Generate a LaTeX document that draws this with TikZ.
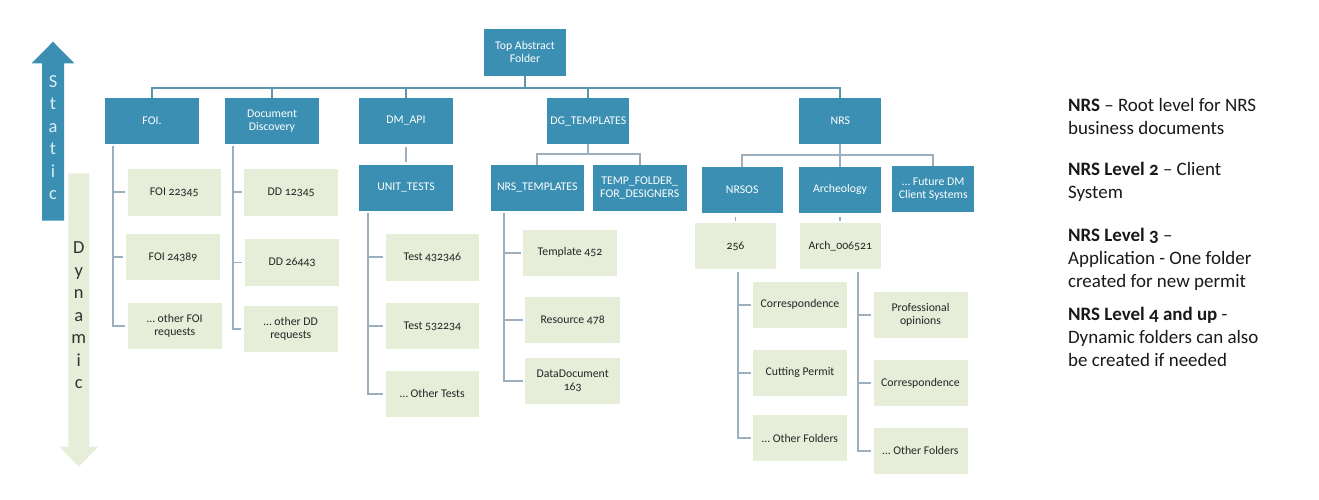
\documentclass[tikz,border=0pt]{standalone}
\usepackage{fontspec}
\setmainfont{Carlito}[Numbers=OldStyle]
\definecolor{foldteal}{RGB}{58,143,178}
\definecolor{dynlight}{RGB}{230,237,216}
\definecolor{busteal}{RGB}{92,150,172}
\definecolor{subgray}{RGB}{155,175,190}
\definecolor{staticlet}{RGB}{220,238,245}
\usetikzlibrary{positioning}
\newcommand{\boxfont}{\fontsize{6.7}{7.4}\selectfont}

\begin{document}
\begin{tikzpicture}[x=0.02cm, y=-0.02cm,
  fbox/.style={fill=foldteal, text=white, minimum width=1.88cm, minimum height=0.91cm, align=center, inner sep=1pt, font=\boxfont},
  dbox/.style={fill=dynlight, text=black!85, minimum width=1.88cm, minimum height=0.91cm, align=center, inner sep=1pt, font=\boxfont},
  bus/.style={draw=busteal, line width=1.3pt},
  sub/.style={draw=subgray, line width=1.1pt},
  legend/.style={anchor=north west, inner sep=0pt, align=left, text=black!90, font=\fontsize{10.8}{13}\selectfont}]
  \useasboundingbox (0,0) rectangle (1319,500);

  % Static / Dynamic arrows
  \fill[foldteal] (42,220.7) -- (42,63.3) -- (31.7,63.3) -- (53,41.7) -- (74.3,63.3) -- (64,63.3) -- (64,220.7) -- cycle;
  \fill[dynlight] (68.3,173.3) -- (68.3,446.7) -- (59.3,446.7) -- (78.8,466.7) -- (98.3,446.7) -- (89.3,446.7) -- (89.3,173.3) -- cycle;
  \node[anchor=north, inner sep=0pt, align=center, text=staticlet, font=\fontsize{10.5}{12.8}\selectfont] (static) at (53,75) {S\\t\\a\\t\\i\\c};
  \node[anchor=north, inner sep=0pt, align=center, text=black!80, font=\fontsize{10.5}{12.8}\selectfont] (dynamic) at (78.8,241.7) {D\\y\\n\\a\\m\\i\\c};

  % Static folders
  \node[fbox, minimum width=1.64cm, minimum height=0.93cm] (top) at (525,52.3) {Top Abstract\\Folder};
  \node[fbox] (foi) at (152,121) {FOI.};
  \node[fbox] (dd) at (272,121) {Document\\Discovery};
  \node[fbox] (dmapi) at (406,121) {DM\_API};
  \node[fbox, minimum width=1.64cm] (dg) at (588.3,121) {DG\_TEMPLATES};
  \node[fbox, minimum width=1.64cm] (nrs) at (840.3,121) {NRS};
  \node[fbox] (unit) at (406,187.8) {UNIT\_TESTS};
  \node[fbox, minimum width=1.87cm] (nrstpl) at (537.3,187.8) {NRS\_TEMPLATES};
  \node[fbox] (tempf) at (639.7,187.8) {TEMP\_FOLDER\_\\FOR\_DESIGNERS};
  \node[fbox, minimum width=1.62cm] (nrsos) at (742.2,189.8) {NRSOS};
  \node[fbox, minimum width=1.63cm] (arch) at (840,189.8) {Archeology};
  \node[fbox, minimum width=1.63cm] (future) at (933.2,188.8) {\ldots\ Future DM\\Client Systems};

  % Dynamic folders
  \node[dbox, minimum width=1.86cm, minimum height=0.93cm] (foi1) at (174.2,192.3) {FOI 22345};
  \node[dbox, minimum width=1.88cm] (foi2) at (173,257) {FOI 24389};
  \node[dbox] (foi3) at (174.8,326) {\ldots\ other FOI\\requests};
  \node[dbox, minimum height=0.93cm] (dd1) at (291.2,192.3) {DD 12345};
  \node[dbox, minimum height=0.93cm] (dd2) at (292,262.5) {DD 26443};
  \node[dbox] (dd3) at (290.8,328.8) {\ldots\ other DD\\requests};
  \node[dbox, minimum width=1.87cm, minimum height=0.93cm] (t1) at (432.3,257.3) {Test 432346};
  \node[dbox, minimum width=1.87cm] (t2) at (432.3,326) {Test 532234};
  \node[dbox, minimum width=1.87cm] (t3) at (432.3,393.8) {\ldots\ Other Tests};
  \node[dbox, minimum width=1.87cm] (tp1) at (570,252.8) {Template 452};
  \node[dbox, minimum width=1.89cm] (tp2) at (572.7,320) {Resource 478};
  \node[dbox, minimum width=1.89cm] (tp3) at (572.7,380.8) {DataDocument\\163};
  \node[dbox, minimum width=1.62cm, minimum height=0.92cm] (n256) at (735.5,246.3) {256};
  \node[dbox, minimum width=1.61cm, minimum height=0.92cm] (narch) at (840.3,246.3) {Arch\_006521};
  \node[dbox, minimum width=1.87cm] (c1) at (800,304.8) {Correspondence};
  \node[dbox, minimum width=1.87cm] (c2) at (800,372.8) {Cutting Permit};
  \node[dbox, minimum width=1.87cm] (c3) at (800,438.2) {\ldots\ Other Folders};
  \node[dbox] (a1) at (920.5,314.8) {Professional\\opinions};
  \node[dbox] (a2) at (920.5,383.2) {Correspondence};
  \node[dbox] (a3) at (920.5,450.8) {\ldots\ Other Folders};

  % Top level bus
  \coordinate (bus) at (525,88.3);
  \draw[bus] (top.south) -- (bus);
  \draw[bus] (foi.north) |- (bus) -| (nrs.north);
  \draw[bus] (dd.north) -- (dd.north |- bus);
  \draw[bus] (dmapi.north) -- (dmapi.north |- bus);
  \draw[bus] (dg.north) -- (dg.north |- bus);

  % Second level
  \coordinate (dgbus) at (588.3,154.3);
  \draw[sub] (dg.south) -- (dgbus);
  \draw[sub] (nrstpl.north) |- (dgbus) -| (tempf.north);
  \coordinate (nrsbus) at (840.3,155.3);
  \draw[sub] (nrs.south) -- (nrsbus);
  \draw[sub] (nrsos.north) |- (nrsbus) -| (future.north);
  \draw[sub] (arch.north) -- (arch.north |- nrsbus);
  \draw[sub, shorten <=1.5pt, shorten >=1.3pt] (dmapi.south) -- (unit.north);
  \draw[sub, shorten <=2.2pt, shorten >=1.2pt] (n256.north |- nrsos.south) -- (n256.north);
  \draw[sub, shorten <=2.2pt, shorten >=1.2pt] (narch.north |- arch.south) -- (narch.north);

  % Dynamic spines
  \coordinate (foisp) at (113.3,146);
  \draw[sub] (foisp) |- ([xshift=-1.5pt]foi3.west);
  \draw[sub] (foi1.west -| foisp) -- ([xshift=-1.3pt]foi1.west);
  \draw[sub] (foi2.west -| foisp) -- ([xshift=-1.3pt]foi2.west);
  \coordinate (ddsp) at (233.3,146);
  \draw[sub] (ddsp) |- ([xshift=-1.3pt]dd3.west);
  \draw[sub] (dd1.west -| ddsp) -- ([xshift=-1.3pt]dd1.west);
  \draw[sub] (dd2.west -| ddsp) -- ([xshift=-1.3pt]dd2.west);
  \coordinate (unitsp) at (368.3,213.3);
  \draw[sub] (unitsp) |- ([xshift=-1.3pt]t3.west);
  \draw[sub] (t1.west -| unitsp) -- ([xshift=-1.3pt]t1.west);
  \draw[sub] (t2.west -| unitsp) -- ([xshift=-1.3pt]t2.west);
  \coordinate (tplsp) at (504,213.3);
  \draw[sub] (tplsp) |- ([xshift=-1.3pt]tp3.west);
  \draw[sub] (tp1.west -| tplsp) -- ([xshift=-1.3pt]tp1.west);
  \draw[sub] (tp2.west -| tplsp) -- ([xshift=-1.3pt]tp2.west);
  \coordinate (n256sp) at (737.7,271.7);
  \draw[sub] (n256sp) |- ([xshift=-1.3pt]c3.west);
  \draw[sub] (c1.west -| n256sp) -- ([xshift=-1.3pt]c1.west);
  \draw[sub] (c2.west -| n256sp) -- ([xshift=-1.3pt]c2.west);
  \coordinate (archsp) at (858.3,271.7);
  \draw[sub] (archsp) |- ([xshift=-1.3pt]a3.west);
  \draw[sub] (a1.west -| archsp) -- ([xshift=-1.3pt]a1.west);
  \draw[sub] (a2.west -| archsp) -- ([xshift=-1.3pt]a2.west);

  % Legend
  \node[legend] (lg1) at (1067.7,98) {\textbf{NRS} – Root level for NRS\\business documents};
  \node[legend] (lg2) at (1067.7,161.7) {\textbf{NRS Level 2} – Client\\System};
  \node[legend] (lg3) at (1067.7,228) {\textbf{NRS Level 3} –\\Application - One folder\\created for new permit};
  \node[legend] (lg4) at (1067.7,306.7) {\textbf{NRS Level 4 and up} -\\Dynamic folders can also\\be created if needed};
\end{tikzpicture}
\end{document}
